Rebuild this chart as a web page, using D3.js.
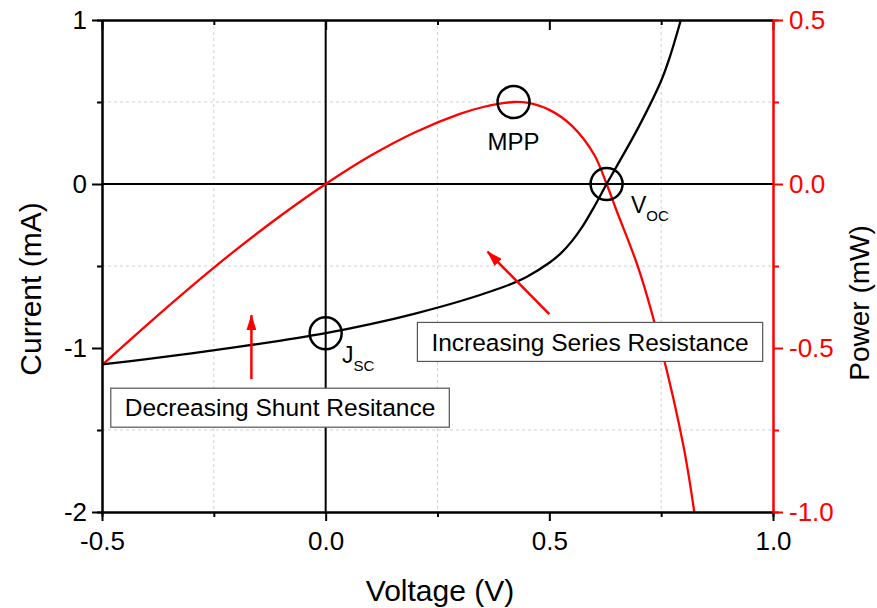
<!DOCTYPE html>
<html>
<head>
<meta charset="utf-8">
<script src="https://cdn.jsdelivr.net/npm/d3@7"></script>
<style>
  body { margin: 0; background: #fff; }
  svg { display: block; font-family: Arial, "Liberation Sans", sans-serif; }
</style>
</head>
<body>
<div id="chart"></div>
<script>
// I-V curve (current, left axis)
const ivVoltage = [-0.5, -0.4, -0.3, -0.2, -0.1, 0, 0.1, 0.2, 0.3, 0.4, 0.45, 0.5, 0.525, 0.55, 0.575, 0.6, 0.628, 0.65, 0.7, 0.75, 0.77, 0.794];
const ivCurrent = [-1.10, -1.068, -1.033, -0.995, -0.955, -0.91, -0.855, -0.79, -0.715, -0.625, -0.565, -0.48, -0.425, -0.35, -0.255, -0.14, 0, 0.105, 0.35, 0.63, 0.78, 1.0];

// power curve (right axis)
const pVoltage = [-0.5, -0.4, -0.3, -0.2, -0.1, 0, 0.1, 0.2, 0.3, 0.35, 0.4, 0.42, 0.45, 0.5, 0.55, 0.6, 0.628, 0.65, 0.7, 0.75, 0.8, 0.824];
const pPower = [-0.552, -0.43, -0.312, -0.2, -0.096, 0, 0.086, 0.158, 0.214, 0.234, 0.247, 0.25, 0.248, 0.226, 0.178, 0.09, 0, -0.08, -0.26, -0.5, -0.8, -1.0];

const xTicks = [-0.5, 0, 0.5, 1.0];
const xMinor = [-0.25, 0.25, 0.75];
const yLeftTicks = [-2, -1, 0, 1];
const yLeftMinor = [-1.5, -0.5, 0.5];
const yRightTicks = [-1.0, -0.5, 0, 0.5];
const yRightMinor = [-0.75, -0.25, 0.25];

// marked points
const markers = [
  { name: "MPP", v: 0.42, val: 0.25, axis: "right" },
  { name: "Jsc", v: 0, val: -0.91, axis: "left" },
  { name: "Voc", v: 0.628, val: 0, axis: "left" }
];

const width = 877, height = 608;
const margin = { top: 20, right: 104, bottom: 96, left: 102 };
const red = "#ff0000";

const svg = d3.select("#chart").append("svg")
  .attr("width", width)
  .attr("height", height);

const x = d3.scaleLinear().domain([-0.5, 1.0]).range([margin.left, width - margin.right]);
const yL = d3.scaleLinear().domain([-2, 1]).range([height - margin.bottom, margin.top]);
const yR = d3.scaleLinear().domain([-1.0, 0.5]).range([height - margin.bottom, margin.top]);

svg.append("defs").append("clipPath").attr("id", "plot-clip")
  .append("rect")
  .attr("x", margin.left).attr("y", margin.top)
  .attr("width", x.range()[1] - margin.left)
  .attr("height", yL.range()[0] - margin.top);

// grid (minor positions only)
const grid = svg.append("g").attr("stroke", "#d0d0d0").attr("stroke-width", 1).attr("stroke-dasharray", "3,3");
xMinor.forEach(v => grid.append("line")
  .attr("x1", x(v)).attr("x2", x(v)).attr("y1", yL(1)).attr("y2", yL(-2)));
yLeftMinor.forEach(v => grid.append("line")
  .attr("x1", x(-0.5)).attr("x2", x(1.0)).attr("y1", yL(v)).attr("y2", yL(v)));

// zero lines
svg.append("line").attr("x1", x(0)).attr("x2", x(0)).attr("y1", yL(1)).attr("y2", yL(-2))
  .attr("stroke", "#000").attr("stroke-width", 2);
svg.append("line").attr("x1", x(-0.5)).attr("x2", x(1.0)).attr("y1", yL(0)).attr("y2", yL(0))
  .attr("stroke", "#000").attr("stroke-width", 2);

// curves
const plot = svg.append("g").attr("clip-path", "url(#plot-clip)");
const ivData = ivVoltage.map((v, i) => [v, ivCurrent[i]]);
const pData = pVoltage.map((v, i) => [v, pPower[i]]);

plot.append("path")
  .datum(pData)
  .attr("fill", "none")
  .attr("stroke", red)
  .attr("stroke-width", 2.3)
  .attr("d", d3.line().x(d => x(d[0])).y(d => yR(d[1])).curve(d3.curveCatmullRom.alpha(0.5)));

plot.append("path")
  .datum(ivData)
  .attr("fill", "none")
  .attr("stroke", "#000")
  .attr("stroke-width", 2.3)
  .attr("d", d3.line().x(d => x(d[0])).y(d => yL(d[1])).curve(d3.curveCatmullRom.alpha(0.5)));

// axes
function styleAxis(g, color) {
  g.select(".domain").attr("stroke", color).attr("stroke-width", 2);
  g.selectAll(".tick line").attr("stroke", color).attr("stroke-width", 2);
  g.selectAll(".tick text").attr("fill", color).attr("font-size", 26)
    .attr("font-family", "Arial, 'Liberation Sans', sans-serif");
}

const bottomY = height - margin.bottom;
const gxMinor = svg.append("g").attr("transform", `translate(0,${bottomY})`)
  .call(d3.axisBottom(x).tickValues(xMinor).tickSize(5).tickFormat(""));
styleAxis(gxMinor, "#000");
const gx = svg.append("g").attr("transform", `translate(0,${bottomY})`)
  .call(d3.axisBottom(x).tickValues(xTicks).tickSize(9).tickSizeOuter(0).tickPadding(11).tickFormat(d3.format(".1f")));
styleAxis(gx, "#000");

// top frame with inward ticks
const gTop = svg.append("g").attr("transform", `translate(0,${margin.top})`)
  .call(d3.axisBottom(x).tickValues(xTicks).tickSize(10).tickSizeOuter(0).tickFormat(""));
styleAxis(gTop, "#000");
const gTopMinor = svg.append("g").attr("transform", `translate(0,${margin.top})`)
  .call(d3.axisBottom(x).tickValues(xMinor).tickSize(5).tickSizeOuter(0).tickFormat(""));
styleAxis(gTopMinor, "#000");

const gyMinor = svg.append("g").attr("transform", `translate(${margin.left},0)`)
  .call(d3.axisLeft(yL).tickValues(yLeftMinor).tickSize(5).tickFormat(""));
styleAxis(gyMinor, "#000");
const gy = svg.append("g").attr("transform", `translate(${margin.left},0)`)
  .call(d3.axisLeft(yL).tickValues(yLeftTicks).tickSize(10).tickSizeOuter(0).tickPadding(5).tickFormat(d3.format("d")));
styleAxis(gy, "#000");

const rightX = width - margin.right;
const gyrMinor = svg.append("g").attr("transform", `translate(${rightX},0)`)
  .call(d3.axisRight(yR).tickValues(yRightMinor).tickSize(6).tickFormat(""));
styleAxis(gyrMinor, red);
const gyr = svg.append("g").attr("transform", `translate(${rightX},0)`)
  .call(d3.axisRight(yR).tickValues(yRightTicks).tickSize(10).tickSizeOuter(0).tickPadding(6).tickFormat(d3.format(".1f")));
styleAxis(gyr, red);

// plain hyphen minus like the original
svg.selectAll(".tick text").text(function () { return d3.select(this).text().replace("\u2212", "-"); });

// axis titles
svg.append("text")
  .attr("x", 440)
  .attr("y", 601)
  .attr("text-anchor", "middle")
  .attr("font-size", 30)
  .text("Voltage (V)");

svg.append("text")
  .attr("transform", "translate(41,289) rotate(-90)")
  .attr("text-anchor", "middle")
  .attr("font-size", 30)
  .text("Current (mA)");

svg.append("text")
  .attr("transform", "translate(869,303) rotate(-90)")
  .attr("text-anchor", "middle")
  .attr("font-size", 28)
  .text("Power (mW)");

// circles at the marked points
markers.forEach(m => {
  const cy = m.axis === "right" ? yR(m.val) : yL(m.val);
  svg.append("circle")
    .attr("cx", x(m.v)).attr("cy", cy).attr("r", 16)
    .attr("fill", "none").attr("stroke", "#000").attr("stroke-width", 2.5);
});

// MPP label
svg.append("text")
  .attr("x", x(0.42)).attr("y", 150)
  .attr("text-anchor", "middle")
  .attr("font-size", 24)
  .text("MPP");

// Jsc label
const jsc = svg.append("text").attr("x", 342).attr("y", 363).attr("font-size", 23);
jsc.append("tspan").text("J");
jsc.append("tspan").attr("font-size", 15).attr("dy", 8).text("SC");

// Voc label
const voc = svg.append("text").attr("x", 631).attr("y", 213).attr("font-size", 23);
voc.append("tspan").text("V");
voc.append("tspan").attr("font-size", 15).attr("dy", 8).text("OC");

// red arrows
svg.select("defs").append("marker")
  .attr("id", "arrow")
  .attr("markerUnits", "userSpaceOnUse")
  .attr("viewBox", "0 0 16 10")
  .attr("refX", 15).attr("refY", 5)
  .attr("markerWidth", 16).attr("markerHeight", 10)
  .attr("orient", "auto")
  .append("path").attr("d", "M0,0 L16,5 L0,10 Z").attr("fill", red);

const arrows = [
  { from: [-0.166, -1.19], to: [-0.166, -0.80] },
  { from: [0.5, -0.793], to: [0.362, -0.413] }
];
arrows.forEach(a => {
  svg.append("line")
    .attr("x1", x(a.from[0])).attr("y1", yL(a.from[1]))
    .attr("x2", x(a.to[0])).attr("y2", yL(a.to[1]))
    .attr("stroke", red).attr("stroke-width", 2.5)
    .attr("marker-end", "url(#arrow)");
});

// text boxes
const boxes = [
  { text: "Decreasing Shunt Resitance", v: -0.102, i: -1.364 },
  { text: "Increasing Series Resistance", v: 0.591, i: -0.963 }
];
boxes.forEach(b => {
  const g = svg.append("g");
  const rect = g.append("rect").attr("fill", "#fff").attr("stroke", "#555").attr("stroke-width", 1.2);
  const t = g.append("text")
    .attr("x", x(b.v)).attr("y", yL(b.i))
    .attr("dy", "0.35em")
    .attr("text-anchor", "middle")
    .attr("font-size", 24.5)
    .text(b.text);
  const bb = t.node().getBBox();
  rect.attr("x", bb.x - 14).attr("y", yL(b.i) - 19.5)
    .attr("width", bb.width + 28).attr("height", 39);
});
</script>
</body>
</html>
